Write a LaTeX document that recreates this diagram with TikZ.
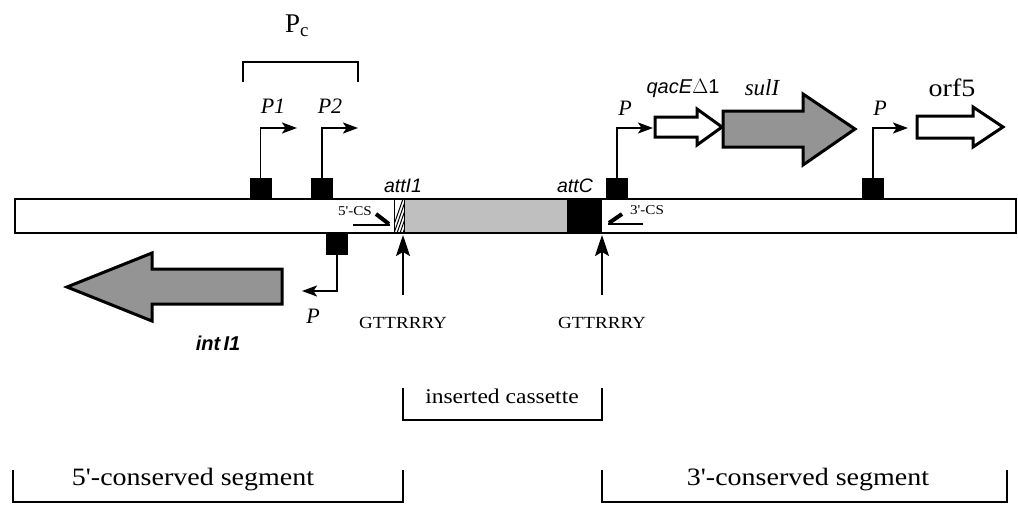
\documentclass[tikz,border=0pt]{standalone}
\usepackage{fontspec}
\setmainfont{Liberation Serif}
\setsansfont{Liberation Sans}
\newfontfamily\wserif[FakeStretch=1.12]{Liberation Serif}
\usetikzlibrary{arrows.meta}
\newcommand{\fs}[1]{\fontsize{#1}{#1}\selectfont}
\tikzset{
  pbox/.style={rectangle, fill=black, draw=none, minimum width=22pt, minimum height=21pt, inner sep=0pt},
  prom/.style={line width=1.9pt, -{Stealth[length=15pt,width=11pt,inset=3.5pt]}},
  uparr/.style={line width=2pt, -{Stealth[length=21pt,width=14pt,inset=4pt]}},
  lab/.style={inner sep=0pt, anchor=center},
  genewhite/.style={draw=black, line width=3pt, fill=white, line join=miter},
  genegray/.style={draw=black, line width=3pt, fill=black!42, line join=miter},
  brk/.style={line width=1.8pt},
}
\begin{document}
\begin{tikzpicture}[x=1pt,y=-1pt]
\useasboundingbox (0,0) rectangle (1018,504);
\fill[white] (0,0) rectangle (1018,504);

% main bar fills
\fill[white] (15,199) rectangle (1016,233);
\fill[black!25] (404,199) rectangle (567,233);
\fill[black] (567,199) rectangle (602,233);
\begin{scope}
  \clip (394,199) rectangle (404,233);
  \foreach \k in {0,...,16} {
    \draw[line width=1pt] (390+3*\k,236) -- (390+3*\k+14,196);
  }
\end{scope}
\draw[line width=1pt] (394,199) -- (394,233);
\draw[line width=1pt] (404,199) -- (404,233);
\draw[line width=2pt] (15,199) rectangle (1016,233);

% promoter boxes
\node[pbox] (b1) at (260.5,188.5) {};
\node[pbox] (b2) at (322,188.5) {};
\node[pbox] (b3) at (617,188.5) {};
\node[pbox] (b4) at (873,188.5) {};
\node[pbox] (b5) at (337,244.5) {};

\coordinate (t1) at (297,128);
\coordinate (t2) at (358,128);
\coordinate (t3) at (653,128);
\coordinate (t4) at (908,128);
\coordinate (t5) at (302,291);
\draw[prom] (b1.north) |- (t1);
\draw[prom] (b2.north) |- (t2);
\draw[prom] (b3.north) |- (t3);
\draw[prom] (b4.north) |- (t4);
\draw[prom] (b5.south) |- (t5);

% promoter labels
\node[lab, font=\fs{22}\itshape] (lp1) at (273,106) {P1};
\node[lab, font=\fs{22}\itshape] (lp2) at (330,106) {P2};
\node[lab, font=\fs{22}\itshape] (lp3) at (625,108) {P};
\node[lab, font=\fs{22}\itshape] (lp4) at (880,108) {P};
\node[lab, font=\fs{22}\itshape] (lp5) at (313,316) {P};

% Pc bracket
\node[lab, font=\fs{27}] (pc) at (297,26) {P\textsubscript{c}};
\draw[line width=2.2pt] (243,82) -- (243,62) -- (358,62) -- (358,82);

% gene arrows
\draw[genewhite] (655,117) -- (697,117) -- (697,109) -- (722,127) -- (697,145) -- (697,137) -- (655,137) -- cycle;
\draw[genegray] (723,111) -- (803,111) -- (803,94) -- (855,129) -- (803,165) -- (803,147) -- (723,147) -- cycle;
\draw[genewhite] (917,116) -- (973,116) -- (973,107) -- (1003,127) -- (973,147) -- (973,138) -- (917,138) -- cycle;
\draw[genegray] (282,269) -- (152,269) -- (152,253) -- (67,287) -- (152,321) -- (152,304) -- (282,304) -- cycle;

% gene labels
\node[lab, font=\fs{20}\sffamily] (lqac) at (683,88) {\textit{qacE}$\Delta$1};
\node[lab, font=\fs{23}\itshape] (lsul) at (762,88) {sulI};
\node[lab, font=\wserif\fs{25}] (lorf) at (952,88) {orf5};
\node[lab, font=\fs{20}\sffamily\bfseries\itshape] (lint) at (218,343) {int\,I1};

% att labels
\node[lab, font=\fs{19.5}\sffamily\itshape] (latti) at (403,186) {attI1};
\node[lab, font=\fs{19.5}\sffamily\itshape] (lattc) at (575,186) {attC};

% CS half arrows
\node[lab, font=\wserif\fs{13.5}] (l5cs) at (355,211) {5'-CS};
\node[lab, font=\wserif\fs{13.5}] (l3cs) at (647,210) {3'-CS};
\draw[line width=1.8pt] (353,225) -- (390,225);
\draw[line width=4pt] (376,214) -- (389,224);
\draw[line width=1.8pt] (643,224) -- (608,224);
\draw[line width=4pt] (622,214) -- (609,223);

% GTTRRRY arrows
\node[lab, font=\wserif\fs{17}] (g1) at (403,323) {GTTRRRY};
\node[lab, font=\wserif\fs{17}] (g2) at (602,323) {GTTRRRY};
\draw[uparr] ([yshift=22pt]g1.north) -- (403,235);
\draw[uparr] ([yshift=22pt]g2.north) -- (602,235);

% inserted cassette bracket
\node[lab, font=\wserif\fs{21}] (lcas) at (502,396) {inserted cassette};
\draw[brk] (403,388) -- (403,420) -- (602,420) -- (602,388);

% conserved segment brackets
\node[lab, font=\wserif\fs{25}] (l5seg) at (193,480) {5'-conserved segment};
\node[lab, font=\wserif\fs{25}] (l3seg) at (808,480) {3'-conserved segment};
\draw[brk] (13,470) -- (13,502) -- (403,502) -- (403,470);
\draw[brk] (602,470) -- (602,502) -- (1007,502) -- (1007,470);
\end{tikzpicture}
\end{document}
